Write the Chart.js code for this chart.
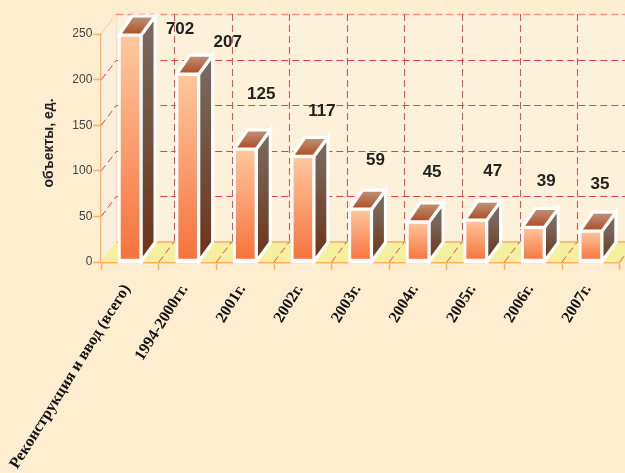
<!DOCTYPE html>
<html><head><meta charset="utf-8">
<style>html,body{margin:0;padding:0;background:#FEEDCF;overflow:hidden}canvas{display:block}</style>
<script src="https://cdn.jsdelivr.net/npm/chart.js@4/dist/chart.umd.min.js"></script>
</head><body><canvas id="c" width="625" height="473"></canvas>
<script>
const categories = ["Реконструкция и ввод (всего)","1994-2000гг.","2001г.","2002г.","2003г.","2004г.","2005г.","2006г.","2007г."];
const values = [702,207,125,117,59,45,47,39,35];
const yTicks = [0,50,100,150,200,250];
const yMax = 250;
const yAxisTitle = 'объекты, ед.';
const labelDx = [50,40,16,19,15,14,17,13,9];
const labelDy = [-5,-31,-54,-44,-48,-49,-48,-45,-46];
const DX = 15, DY = -20, BX = 13, BY = -19;

function poly(ctx, pts){ctx.beginPath();pts.forEach((p,i)=>i?ctx.lineTo(p[0],p[1]):ctx.moveTo(p[0],p[1]));ctx.closePath();}
function line(ctx,x1,y1,x2,y2){ctx.beginPath();ctx.moveTo(x1,y1);ctx.lineTo(x2,y2);ctx.stroke();}
function vGrad(ctx,y0,y1,a,b){const g=ctx.createLinearGradient(0,y0,0,y1);g.addColorStop(0,a);g.addColorStop(1,b);return g;}
const snap = v => Math.round(v)+0.5;

const walls = {id:'walls',beforeDatasetsDraw(chart){
  const {ctx,chartArea:a,scales:{x,y}} = chart;
  const n = categories.length, step = (a.right-a.left)/n;
  ctx.save();
  ctx.fillStyle='#FDF1DA';
  ctx.fillRect(a.left+DX,a.top+DY,625-a.left-DX,a.bottom-a.top);
  poly(ctx,[[a.left,a.top],[a.left+DX,a.top+DY],[a.left+DX,a.bottom+DY],[a.left,a.bottom]]);ctx.fillStyle='#FBEEDB';ctx.fill();
  poly(ctx,[[a.left,a.bottom],[a.left+DX,a.bottom+DY],[640,a.bottom+DY],[625,a.bottom]]);ctx.fillStyle='#F4F09E';ctx.fill();
  ctx.strokeStyle='#FDBB78';ctx.lineWidth=2;
  line(ctx,a.left+DX,a.bottom+DY,640,a.bottom+DY);
  ctx.lineWidth=1;
  ctx.strokeStyle='#FCCB96';
  line(ctx,a.left,a.top,a.left+DX,a.top+DY);
  ctx.strokeStyle='#FBDCC0';
  line(ctx,snap(a.left+DX),a.top+DY,snap(a.left+DX),a.bottom+DY);
  ctx.setLineDash([7,4]);ctx.lineWidth=1;
  yTicks.forEach(t=>{
    if(t===0) return;
    const p=y.getPixelForValue(t);
    const wy=snap(p+DY);
    ctx.strokeStyle = t===yMax ? '#FF8F80' : '#EE3B4A';
    ctx.lineWidth = t===yMax ? 1.5 : 1;
    if(t!==yMax) line(ctx,a.left,p,a.left+DX,wy);
    line(ctx,a.left+DX,wy,625,wy);
  });
  ctx.lineWidth=1;ctx.strokeStyle='#EE4A58';
  for(let i=1;i<=n;i++){
    const xp=a.left+i*step;
    line(ctx,snap(xp+DX),a.top+DY,snap(xp+DX),a.bottom+DY);
    line(ctx,xp,a.bottom,xp+DX,a.bottom+DY);
  }
  ctx.setLineDash([]);
  chart.getDatasetMeta(0).data.forEach(b=>{
    const hw=b.width/2, l=b.x-hw, r=b.x+hw, t=b.y, bt=b.base;
    ctx.strokeStyle='#fff';ctx.lineWidth=3.2;ctx.lineJoin='miter';
    poly(ctx,[[r-1,t+1],[r+BX,t+BY+1],[r+BX,bt+BY],[r-1,bt]]);
    ctx.fillStyle=vGrad(ctx,t,bt,'#78675A','#6E3216');ctx.fill();ctx.stroke();
    poly(ctx,[[l+1,t+1],[l+BX+1,t+BY+1],[r+BX,t+BY+1],[r-1,t+1]]);
    ctx.fillStyle=vGrad(ctx,t+BY,t,'#C09A80','#AE4F26');ctx.fill();ctx.stroke();
    ctx.fillStyle='#fff';ctx.fillRect(l,bt-1,r-l+1,3);
  });
  ctx.restore();
}};

const numbers = {id:'numbers',afterDatasetsDraw(chart){
  const {ctx} = chart;
  ctx.save();
  ctx.font='bold 17px "Liberation Sans"';ctx.fillStyle='#222';ctx.textAlign='center';ctx.textBaseline='middle';
  chart.getDatasetMeta(0).data.forEach((b,i)=>ctx.fillText(String(values[i]),b.x+labelDx[i],b.y+labelDy[i]));
  ctx.font='bold 14px "Liberation Sans"';
  ctx.translate(49,143);ctx.rotate(-Math.PI/2);
  ctx.fillText(yAxisTitle,0,0);
  ctx.restore();
}};

new Chart(document.getElementById('c'),{
  type:'bar',
  data:{labels:categories,datasets:[{
    data:values.map(v=>Math.min(v,yMax)),
    barThickness:24,
    borderWidth:3,
    borderColor:'#fff',
    borderSkipped:false,
    backgroundColor(ctx){
      const c=ctx.chart, sy=c.scales.y;
      if(!sy || !c.chartArea) return '#F6743A';
      const y0=sy.getPixelForValue(ctx.raw), y1=sy.getPixelForValue(0);
      if(!isFinite(y0)||!isFinite(y1)) return '#F6743A';
      return vGrad(c.ctx,y0,y1,'#FFC89F','#F6713A');
    }
  }]},
  plugins:[walls,numbers],
  options:{
    responsive:false,animation:false,
    layout:{padding:{left:0,right:5.3,top:34,bottom:0}},
    plugins:{legend:{display:false},tooltip:{enabled:false}},
    scales:{
      x:{
        afterFit(s){s.height=211;},
        grid:{drawOnChartArea:false,drawTicks:true,tickLength:8,tickColor:'#FBB35E',tickWidth:1.5},
        border:{color:'#FBB35E',width:2.5},
        ticks:{autoSkip:false,minRotation:58,maxRotation:58,padding:11,labelOffset:-3,color:'#111',font:{family:'"Liberation Serif"',weight:'bold',size:16}}
      },
      y:{
        min:0,max:yMax,
        afterFit(s){s.width=101.3;},
        afterBuildTicks(s){s.ticks=yTicks.map(v=>({value:v}));},
        grid:{drawOnChartArea:false,drawTicks:true,tickLength:8,tickColor:'#FBB35E',tickWidth:1.5},
        border:{color:'#FBB35E',width:2.5},
        ticks:{padding:1,color:'#444',font:{family:'"Liberation Sans"',size:12}}
      }
    }
  }
});
</script></body></html>
